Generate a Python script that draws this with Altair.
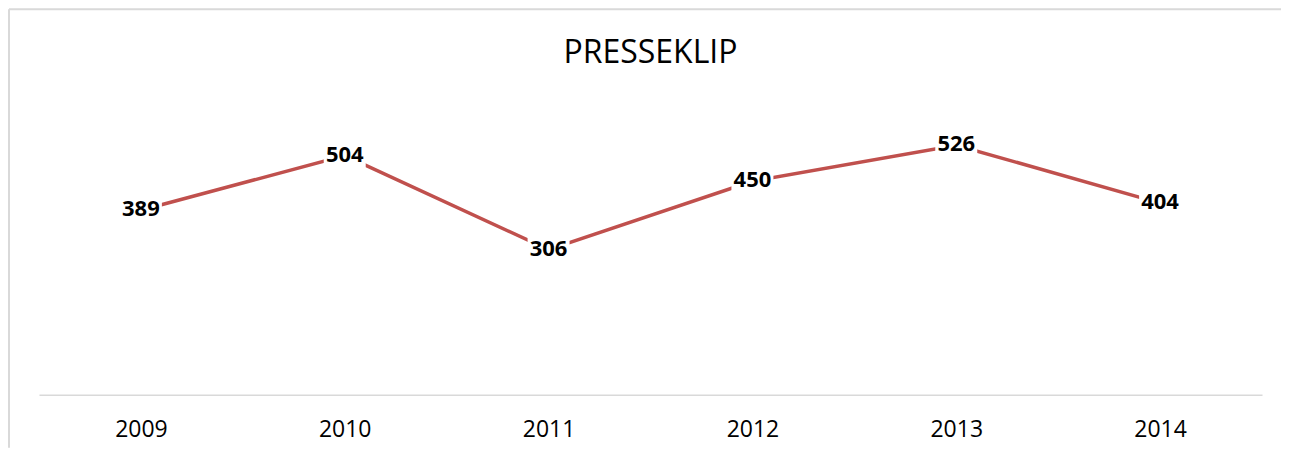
import altair as alt
import pandas as pd

years = ["2009", "2010", "2011", "2012", "2013", "2014"]
values = [389, 504, 306, 450, 526, 404]
title_text = ["PRESSEKLIP"]

df = pd.DataFrame({"year": years, "value": values})
one = pd.DataFrame({"k": [0]})
title_df = pd.DataFrame({"t": title_text})

W, H = 1224, 285

x_enc = alt.X(
    "year:N",
    sort=years,
    scale=alt.Scale(padding=0.5),
    axis=alt.Axis(
        title=None, labelAngle=0, domainColor="#d9d9d9", domainWidth=1.5,
        ticks=False, tickSize=0, grid=False, labelFont="Open Sans",
        labelFontSize=23, labelColor="#000000", labelPadding=24,
    ),
)
y_enc = alt.Y("value:Q", scale=alt.Scale(domain=[0, 600]), axis=None)

base = alt.Chart(df).encode(x=x_enc, y=y_enc)

line = base.mark_line(color="#c0504d", strokeWidth=3.5)
boxes = base.mark_point(
    shape="M-1.75,-1H1.75V1H-1.75Z", filled=True, color="white",
    opacity=1, size=576, strokeWidth=0,
)
labels = base.mark_text(
    font="Open Sans", fontSize=22, fontWeight="bold", color="black",
    baseline="middle", dy=-1,
).encode(text="value:Q")

title = alt.Chart(title_df).mark_text(
    font="Open Sans", fontSize=32, fontWeight="normal", color="black",
    baseline="alphabetic", align="center",
).encode(text="t:N", x=alt.value(W / 2), y=alt.value(-47))

frame_top = alt.Chart(one).mark_rule(color="#d9d9d9", strokeWidth=2).encode(
    x=alt.value(-30), x2=alt.value(1243), y=alt.value(-101)
)
frame_left = alt.Chart(one).mark_rule(color="#d9d9d9", strokeWidth=2).encode(
    x=alt.value(-30), y=alt.value(-101), y2=alt.value(338)
)

chart = alt.layer(frame_top, frame_left, title, line, boxes, labels).properties(
    width=W, height=H, padding=0, background="white",
).configure_view(stroke=None, strokeWidth=0)

chart.save("out.html", embed_options={"renderer": "svg", "actions": False})
